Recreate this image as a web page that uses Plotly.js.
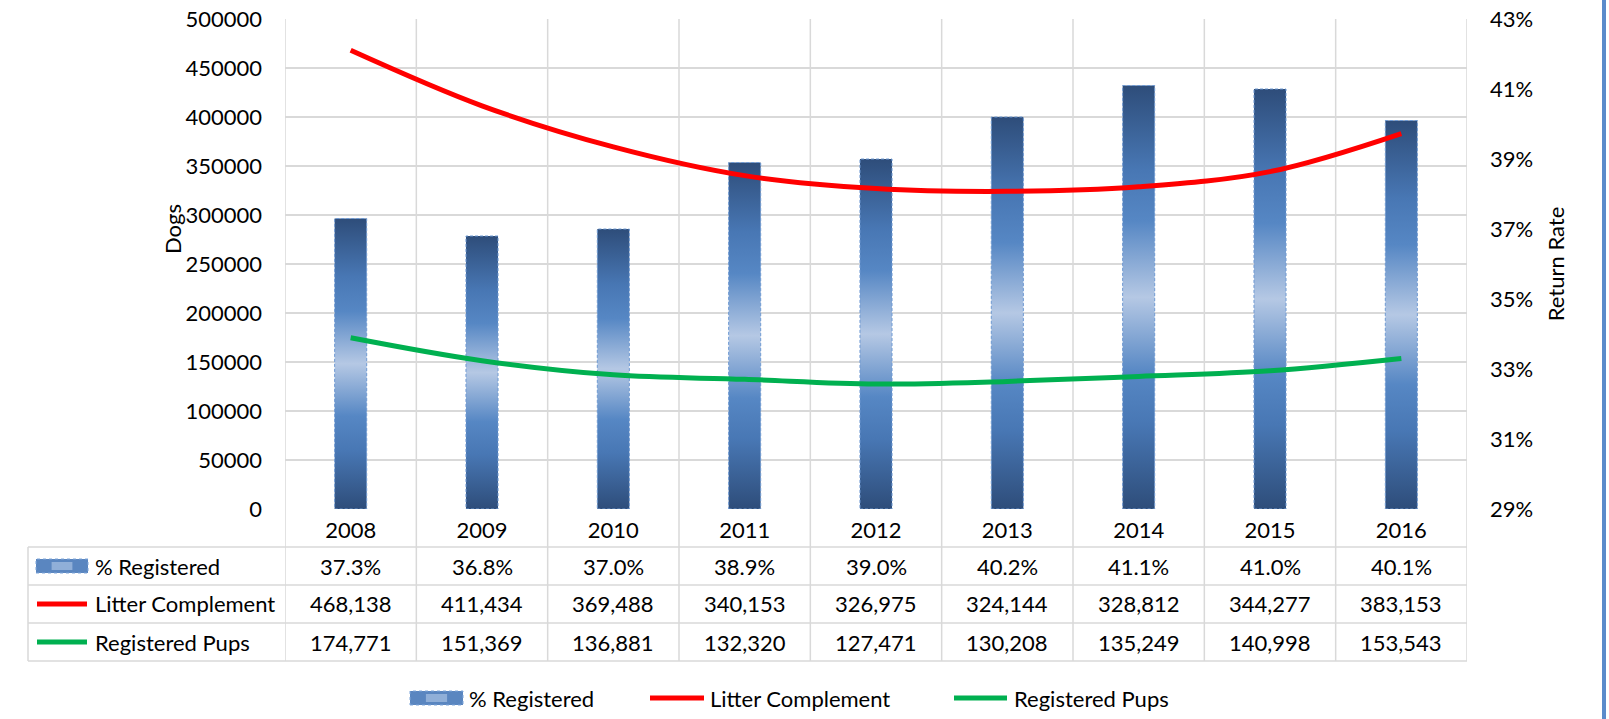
<!DOCTYPE html>
<html>
<head>
<meta charset="utf-8">
<script src="https://cdn.plot.ly/plotly-3.0.1.min.js"></script>
<style>html,body{margin:0;padding:0;background:#fff;}#chart{width:1609px;height:719px;}</style>
</head>
<body>
<div id="chart"></div>
<script>
// ---- Data ----
var years = ['2008','2009','2010','2011','2012','2013','2014','2015','2016'];
var pctRegistered = [37.3, 36.8, 37.0, 38.9, 39.0, 40.2, 41.1, 41.0, 40.1];
var litterComplement = [468138, 411434, 369488, 340153, 326975, 324144, 328812, 344277, 383153];
var registeredPups = [174771, 151369, 136881, 132320, 127471, 130208, 135249, 140998, 153543];
var seriesNames = ['% Registered', 'Litter Complement', 'Registered Pups'];
var dogsTicks = [0, 50000, 100000, 150000, 200000, 250000, 300000, 350000, 400000, 450000, 500000];
var rateTicks = [29, 31, 33, 35, 37, 39, 41, 43];

// ---- Layout geometry (px) ----
var FW = 1609, FH = 719;
var L = 285, R = 1467, T = 19, B = 509;
var W = R - L, H = B - T;
function px2x(p) { return (p - L) / W; }
function px2y(p) { return (B - p) / H; }

var FONT = 'Lato, "Open Sans", sans-serif';
var FS = 22;
var GRID = '#D9D9D9';
var RED = '#FF0000', GREEN = '#00B050';
var barHalf = 0.122;
var barScale = [[0, '#2E4D7A'], [0.2, '#4877B4'], [0.32, '#5687C4'], [0.5, '#B5C8E4'], [0.68, '#5687C4'], [0.8, '#4877B4'], [1, '#2E4D7A']];

var xs = years.map(function (_, i) { return i; });
var traces = [];

// Bars (secondary rate axis, drawn as filled shapes so they can carry a gradient)
pctRegistered.forEach(function (v, i) {
  traces.push({
    type: 'scatter', mode: 'lines', xaxis: 'x', yaxis: 'y',
    x: [i - barHalf, i + barHalf, i + barHalf, i - barHalf, i - barHalf],
    y: [rateTicks[0], rateTicks[0], v, v, rateTicks[0]],
    fill: 'toself',
    fillgradient: { type: 'vertical', colorscale: barScale },
    line: { color: '#6F9AD3', width: 1, dash: '3px,2px' },
    name: seriesNames[0], showlegend: false, hoverinfo: 'skip'
  });
});

traces.push({
  type: 'scatter', mode: 'lines', xaxis: 'x', yaxis: 'y2',
  x: xs, y: litterComplement, name: seriesNames[1],
  line: { color: RED, width: 5, shape: 'spline', smoothing: 1 },
  showlegend: false, hoverinfo: 'skip'
});
traces.push({
  type: 'scatter', mode: 'lines', xaxis: 'x', yaxis: 'y2',
  x: xs, y: registeredPups, name: seriesNames[2],
  line: { color: GREEN, width: 5, shape: 'spline', smoothing: 1 },
  showlegend: false, hoverinfo: 'skip'
});

// ---- Table / legend shapes & annotations ----
var shapes = [], annotations = [];
var tableLeft = 28;
var rowLines = [547, 585, 623, 661];
var rowCenters = [566, 604, 642];

// vertical grid/table lines at category boundaries
for (var k = 0; k <= years.length; k++) {
  shapes.push({ type: 'line', xref: 'x', yref: 'paper', x0: k - 0.5, x1: k - 0.5,
    y0: 1, y1: px2y(rowLines[3]), line: { color: GRID, width: 1.5 }, layer: 'below' });
}
// horizontal table lines
rowLines.forEach(function (py) {
  shapes.push({ type: 'line', xref: 'paper', yref: 'paper', x0: px2x(tableLeft), x1: 1,
    y0: px2y(py), y1: px2y(py), line: { color: GRID, width: 1.5 }, layer: 'below' });
});
shapes.push({ type: 'line', xref: 'paper', yref: 'paper', x0: px2x(tableLeft), x1: px2x(tableLeft),
  y0: px2y(rowLines[0]), y1: px2y(rowLines[3]), line: { color: GRID, width: 1.5 }, layer: 'below' });

// right-side blue border
shapes.push({ type: 'line', xref: 'paper', yref: 'paper', x0: px2x(1604), x1: px2x(1604),
  y0: px2y(0), y1: px2y(FH), line: { color: '#5B8BCB', width: 4 } });

function barIcon(x0, x1, yc) {
  shapes.push({ type: 'rect', xref: 'paper', yref: 'paper', x0: px2x(x0), x1: px2x(x1),
    y0: px2y(yc + 7), y1: px2y(yc - 7), fillcolor: '#5A86C0',
    line: { color: '#7FA6DA', width: 1, dash: 'dot' } });
  shapes.push({ type: 'rect', xref: 'paper', yref: 'paper', x0: px2x(x0 + (x1 - x0) * 0.3), x1: px2x(x1 - (x1 - x0) * 0.3),
    y0: px2y(yc + 4), y1: px2y(yc - 4), fillcolor: 'rgba(190,210,235,0.55)', line: { width: 0 } });
}
function lineIcon(x0, x1, yc, color) {
  shapes.push({ type: 'line', xref: 'paper', yref: 'paper', x0: px2x(x0), x1: px2x(x1),
    y0: px2y(yc), y1: px2y(yc), line: { color: color, width: 5 } });
}
function label(text, px, py, anchor) {
  annotations.push({ xref: 'paper', yref: 'paper', x: px2x(px), y: px2y(py), text: text,
    showarrow: false, xanchor: anchor || 'left', yanchor: 'middle',
    font: { family: FONT, size: FS, color: '#000' } });
}

// table row headers
barIcon(36, 88, rowCenters[0]);
lineIcon(37, 87, rowCenters[1], RED);
lineIcon(37, 87, rowCenters[2], GREEN);
seriesNames.forEach(function (n, r) { label(n, 93, rowCenters[r]); });

// table values
var rows = [
  pctRegistered.map(function (v) { return v.toFixed(1) + '%'; }),
  litterComplement.map(function (v) { return v.toLocaleString('en-US'); }),
  registeredPups.map(function (v) { return v.toLocaleString('en-US'); })
];
rows.forEach(function (row, r) {
  row.forEach(function (txt, i) {
    annotations.push({ xref: 'x', yref: 'paper', x: i, y: px2y(rowCenters[r]), text: txt,
      showarrow: false, xanchor: 'center', yanchor: 'middle',
      font: { family: FONT, size: FS, color: '#000' } });
  });
});

// bottom legend
var legY = 698;
barIcon(410, 463, legY);
label(seriesNames[0], 467, legY);
lineIcon(650, 704, legY, RED);
label(seriesNames[1], 708, legY);
lineIcon(954, 1007, legY, GREEN);
label(seriesNames[2], 1012, legY);

// left axis title
annotations.push({ xref: 'paper', yref: 'paper', x: px2x(172), y: px2y(229), text: 'Dogs',
  showarrow: false, textangle: -90, xanchor: 'center', yanchor: 'middle',
  font: { family: FONT, size: FS, color: '#000' } });

var layout = {
  width: FW, height: FH,
  margin: { l: L, r: FW - R, t: T, b: FH - B, pad: 0 },
  paper_bgcolor: '#fff', plot_bgcolor: 'rgba(0,0,0,0)',
  showlegend: false,
  font: { family: FONT, size: FS, color: '#000' },
  xaxis: {
    range: [-0.5, 8.5], tickmode: 'array', tickvals: xs, ticktext: years,
    showgrid: false, zeroline: false, showline: false, ticks: '',
    ticklabelstandoff: 6, tickfont: { family: FONT, size: FS, color: '#000' }, fixedrange: true
  },
  yaxis: {
    side: 'right', range: [rateTicks[0], rateTicks[rateTicks.length - 1]],
    tickmode: 'array', tickvals: rateTicks, ticktext: rateTicks.map(function (t) { return t + '%'; }),
    showgrid: false, zeroline: false, showline: false, ticks: '', ticklabelstandoff: 22,
    tickfont: { family: FONT, size: FS, color: '#000' },
    title: { text: 'Return Rate', font: { family: FONT, size: FS, color: '#000' }, standoff: 16 }
  },
  yaxis2: {
    overlaying: 'y', side: 'left', range: [0, 500000],
    tickmode: 'array', tickvals: dogsTicks, ticktext: dogsTicks.map(String),
    showgrid: true, gridcolor: GRID, gridwidth: 1.5, zeroline: false, showline: false,
    ticks: '', ticklabelstandoff: 22, tickfont: { family: FONT, size: FS, color: '#000' }
  },
  shapes: shapes,
  annotations: annotations
};

Plotly.newPlot('chart', traces, layout, { displayModeBar: false, staticPlot: true });
</script>
</body>
</html>
